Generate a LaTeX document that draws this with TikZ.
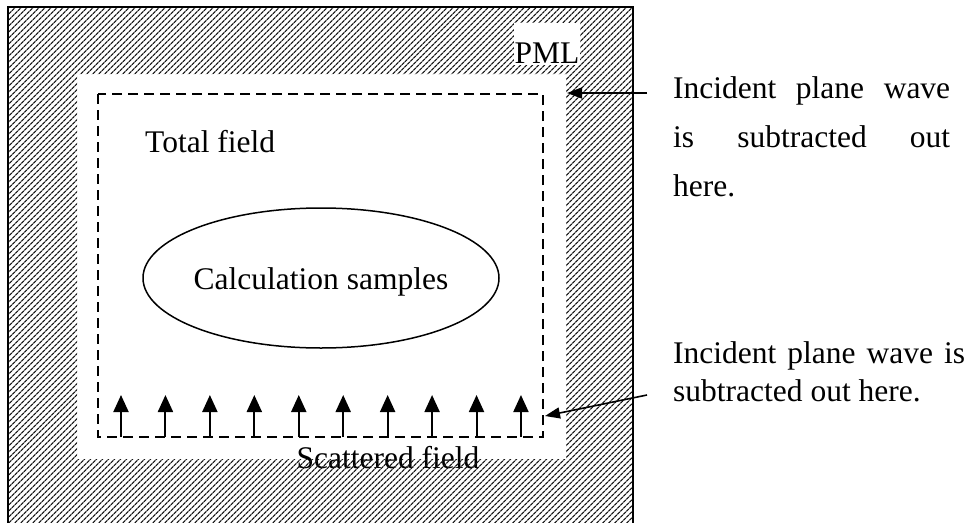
\documentclass[tikz,border=0pt]{standalone}
\usepackage{fontspec}
\setmainfont{Liberation Serif}
\usetikzlibrary{shapes.geometric,patterns.meta,arrows.meta}
\begin{document}
\begin{tikzpicture}[x=1pt,y=-1pt,
  every node/.style={inner sep=0pt, font=\fontsize{31.5}{36}\selectfont},
  hatch/.style={pattern={Lines[angle=45,distance=4pt,line width=1.35pt]}, pattern color=black!90, even odd rule},
  frame/.style={line width=2pt},
  tfsf/.style={line width=1.5pt, dash pattern=on 10pt off 6pt},
  uparrow/.style={line width=2pt, -{Triangle[length=17pt,width=15pt]}},
  sidearrow/.style={line width=1.6pt, -{Triangle[length=15pt,width=11pt]}},
  txt/.style={anchor=base west}]
\useasboundingbox (0,0) rectangle (979,522);
\clip (0,0) rectangle (979,522);
% scattered field label (hatch drawn over its lower half)
\node[anchor=base] (sf) at (388,468) {Scattered field};
% PML hatched region
\fill[hatch] (8,7) rectangle (633,540) (77,74) rectangle (566,459);
\draw[frame] (8,7) rectangle (633,540);
\node[fill=white, anchor=base, text height=40pt, text depth=2pt, inner xsep=1pt] (pml) at (547,63) {PML};
% total-field / scattered-field boundary
\draw[tfsf] (98,94) rectangle (543,437);
% samples
\node[draw, ellipse, line width=1.5pt, minimum width=356pt, minimum height=140pt] (samples) at (321,278) {};
\node[anchor=base] (samplestxt) at (321,289) {Calculation samples};
\node[txt] (tf) at (145,152) {Total field};
% incident plane wave arrows
\foreach \i in {0,...,9} {
  \coordinate (b\i) at ({121+\i*44.44},437);
  \coordinate (t\i) at ({121+\i*44.44},395);
  \draw[uparrow] (b\i) -- (t\i);
}
% annotations
\node[txt] (ta1) at (673,98) {\makebox[277pt][s]{Incident plane wave}};
\node[txt] (ta2) at (673,147) {\makebox[277pt][s]{is subtracted out}};
\node[txt] (ta3) at (673,196) {here.};
\node[txt] (tb1) at (673,363) {\makebox[292pt][s]{Incident plane wave is}};
\node[txt] (tb2) at (673,401) {subtracted out here.};
\coordinate (a1s) at (647,93);
\coordinate (a1e) at (567,93);
\coordinate (a2s) at (647,395);
\coordinate (a2e) at (545,416);
\draw[sidearrow] (a1s) -- (a1e);
\draw[sidearrow] (a2s) -- (a2e);
\end{tikzpicture}
\end{document}
